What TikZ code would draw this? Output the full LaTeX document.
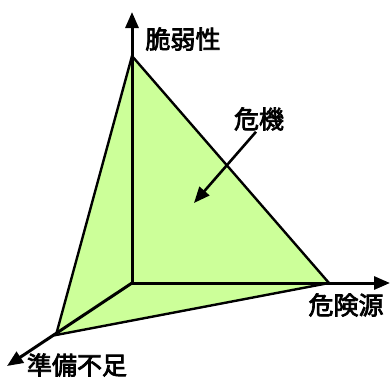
\documentclass[tikz,border=0pt]{standalone}
\usepackage{fontspec}
\newfontfamily\cjk[FakeBold=3]{Noto Sans CJK JP}
\usetikzlibrary{arrows.meta}
\definecolor{fillgreen}{HTML}{CCFF99}
\begin{document}
\begin{tikzpicture}[x=1pt,y=-1pt,
  axis/.style={line width=3pt,-{Triangle[length=16pt,width=13pt]}},
  edge/.style={line width=2.4pt,line join=miter},
  lbl/.style={font=\cjk\fontsize{25}{25}\selectfont,inner sep=0pt,text=black}]
\useasboundingbox (0,0) rectangle (390,378);
\coordinate (O) at (132,283);
\coordinate (A) at (132,56);
\coordinate (B) at (329,283);
\coordinate (C) at (56,335);
\coordinate (Yt) at (132,12);
\coordinate (Xt) at (390,283);
\coordinate (Zt) at (7,366);
\fill[fillgreen] (A) -- (B) -- (C) -- cycle;
\draw[edge] (A) -- (B) -- (C) -- cycle;
\draw[axis] (O) -- (Yt);
\draw[axis] (O) -- (Xt);
\draw[axis] (O) -- (Zt);
\node[lbl] (v) at (183,39) {脆弱性};
\node[lbl] (h) at (346,305) {危険源};
\node[lbl] (p) at (77,365) {準備不足};
\node[lbl] (k) at (259,119) {危機};
\coordinate (kt) at (194,203);
\draw[axis,line width=2.6pt] (k.south) ++(-3,1) coordinate (ks) (ks) -- (kt);
\end{tikzpicture}
\end{document}
